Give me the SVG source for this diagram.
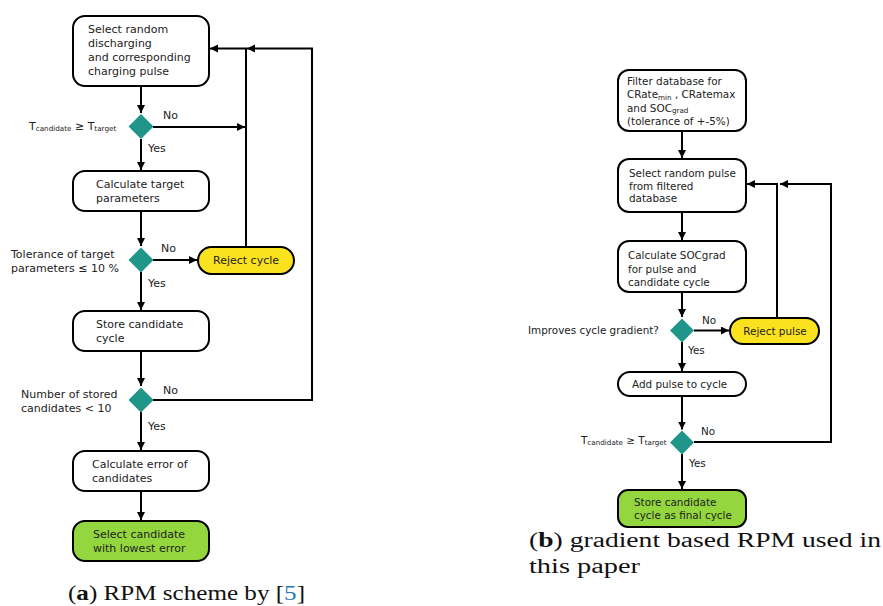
<svg xmlns="http://www.w3.org/2000/svg" width="883" height="606" viewBox="0 0 883 606">
<style>
.box{fill:#fff;stroke:#000;stroke-width:2}
.rej{fill:#FBE21F;stroke:#000;stroke-width:2}
.fin{fill:#93D63D;stroke:#000;stroke-width:2}
.dia{fill:#20968A}
.t{font-family:"DejaVu Sans",Verdana,sans-serif;font-size:11px;fill:#222}
.r{font-size:10.4px}
.sub{font-size:7.2px}
.c{text-anchor:middle}
.con path{fill:none;stroke:#000;stroke-width:2}
.cap{font-family:"Liberation Serif","Times New Roman",serif;font-size:20.5px;fill:#111}
</style>
<defs>
<marker id="ah" markerUnits="userSpaceOnUse" markerWidth="10" markerHeight="10" refX="8" refY="4" orient="auto">
<path d="M0,0 L8,4 L0,8 Z" fill="#000"/>
</marker>
</defs>
<rect width="883" height="606" fill="#fff"/>

<g class="con" id="connectors">
<path d="M141,86 V113" marker-end="url(#ah)"/>
<path d="M153,127 H245" marker-end="url(#ah)"/>
<path d="M141,139 V170" marker-end="url(#ah)"/>
<path d="M141,211 V246" marker-end="url(#ah)"/>
<path d="M153,260 H197" marker-end="url(#ah)"/>
<path d="M141,272 V310" marker-end="url(#ah)"/>
<path d="M246,247 V48.5 H210" marker-end="url(#ah)"/>
<path d="M141,351 V386" marker-end="url(#ah)"/>
<path d="M153,400 H312 V48.5 H247" marker-end="url(#ah)"/>
<path d="M141,412 V450" marker-end="url(#ah)"/>
<path d="M141,491 V520" marker-end="url(#ah)"/>

<path d="M682,131 V158" marker-end="url(#ah)"/>
<path d="M682,212 V240" marker-end="url(#ah)"/>
<path d="M682,292 V317" marker-end="url(#ah)"/>
<path d="M694,330.5 H729" marker-end="url(#ah)"/>
<path d="M682,342 V371" marker-end="url(#ah)"/>
<path d="M777,318 V184 H747" marker-end="url(#ah)"/>
<path d="M682,396 V429.5" marker-end="url(#ah)"/>
<path d="M694,442 H831 V184 H780" marker-end="url(#ah)"/>
<path d="M682,454 V489" marker-end="url(#ah)"/>
</g>

<g id="n1"><rect class="box" x="73" y="16" width="136" height="70" rx="12"/>
<text class="t" x="88" y="33">Select random</text>
<text class="t" x="88" y="47">discharging</text>
<text class="t" x="88" y="61">and corresponding</text>
<text class="t" x="88" y="75">charging pulse</text></g>

<g id="d1"><path class="dia" d="M141,114 L153.5,126.5 L141,139 L128.5,126.5 Z"/>
<text class="t" x="29" y="129.5">T<tspan class="sub" dy="1.5">candidate</tspan><tspan dy="-1.5"> ≥ T</tspan><tspan class="sub" dy="1.5">target</tspan></text>
<text class="t" x="163" y="119">No</text>
<text class="t" x="148" y="152">Yes</text></g>

<g id="n2"><rect class="box" x="73" y="171" width="136" height="40" rx="12"/>
<text class="t" x="96" y="188">Calculate target</text>
<text class="t" x="96" y="202">parameters</text></g>

<g id="d2"><path class="dia" d="M141,247.5 L153.5,260 L141,272.5 L128.5,260 Z"/>
<text class="t" x="11" y="258">Tolerance of target</text>
<text class="t" x="11" y="272">parameters ≤ 10 %</text>
<text class="t" x="161" y="252">No</text>
<text class="t" x="148" y="287">Yes</text></g>

<g id="reject-cycle"><rect class="rej" x="198" y="247" width="96" height="27" rx="13.5"/>
<text class="t c" x="246" y="264">Reject cycle</text></g>

<g id="n3"><rect class="box" x="73" y="311" width="136" height="40" rx="12"/>
<text class="t" x="96" y="328">Store candidate</text>
<text class="t" x="96" y="342">cycle</text></g>

<g id="d3"><path class="dia" d="M141,387.5 L153.5,400 L141,412.5 L128.5,400 Z"/>
<text class="t" x="21" y="398">Number of stored</text>
<text class="t" x="21" y="412">candidates &lt; 10</text>
<text class="t" x="163" y="394">No</text>
<text class="t" x="148" y="430">Yes</text></g>

<g id="n4"><rect class="box" x="73" y="451" width="136" height="40" rx="12"/>
<text class="t" x="92" y="468">Calculate error of</text>
<text class="t" x="92" y="482">candidates</text></g>

<g id="n5"><rect class="fin" x="73" y="521" width="136" height="40" rx="12"/>
<text class="t" x="93" y="538">Select candidate</text>
<text class="t" x="93" y="552">with lowest error</text></g>

<g id="cap-a"><text class="cap" x="68" y="600" textLength="237" lengthAdjust="spacingAndGlyphs">(<tspan font-weight="bold">a</tspan>) RPM scheme by [<tspan fill="#1f77b4">5</tspan>]</text></g>

<g id="r1"><rect class="box" x="618" y="70" width="128" height="61" rx="11"/>
<text class="t r" x="627" y="85">Filter database for</text>
<text class="t r" x="627" y="98">CRate<tspan class="sub" dy="1.5">min</tspan><tspan dy="-1.5"> , CRatemax</tspan></text>
<text class="t r" x="627" y="111.5">and SOC<tspan class="sub" dy="1.5">grad</tspan></text>
<text class="t r" x="627" y="125">(tolerance of +-5%)</text></g>

<g id="r2"><rect class="box" x="618" y="159" width="128" height="53" rx="11"/>
<text class="t r" x="629" y="176.5">Select random pulse</text>
<text class="t r" x="629" y="189.5">from filtered</text>
<text class="t r" x="629" y="202">database</text></g>

<g id="r3"><rect class="box" x="618" y="241" width="128" height="51" rx="11"/>
<text class="t r" x="628" y="259">Calculate SOCgrad</text>
<text class="t r" x="628" y="272.5">for pulse and</text>
<text class="t r" x="628" y="285.5">candidate cycle</text></g>

<g id="rd1"><path class="dia" d="M682,318.5 L694,330.5 L682,342.5 L670,330.5 Z"/>
<text class="t r" x="528" y="334">Improves cycle gradient?</text>
<text class="t r" x="702" y="324">No</text>
<text class="t r" x="688" y="354">Yes</text></g>

<g id="reject-pulse"><rect class="rej" x="730" y="318" width="89" height="26" rx="13"/>
<text class="t r c" x="775" y="334.5">Reject pulse</text></g>

<g id="r4"><rect class="box" x="618" y="372" width="128" height="24" rx="12"/>
<text class="t r" x="632" y="388">Add pulse to cycle</text></g>

<g id="rd2"><path class="dia" d="M682,430.5 L694,442.5 L682,454.5 L670,442.5 Z"/>
<text class="t r" x="581" y="443.5">T<tspan class="sub" dy="1.5">candidate</tspan><tspan dy="-1.5"> ≥ T</tspan><tspan class="sub" dy="1.5">target</tspan></text>
<text class="t r" x="701" y="435">No</text>
<text class="t r" x="689" y="467">Yes</text></g>

<g id="r5"><rect class="fin" x="618" y="490" width="128" height="37" rx="10"/>
<text class="t r" x="634" y="506">Store candidate</text>
<text class="t r" x="634" y="519">cycle as final cycle</text></g>

<g id="cap-b"><text class="cap" x="529" y="547" textLength="352" lengthAdjust="spacingAndGlyphs">(<tspan font-weight="bold">b</tspan>) gradient based RPM used in</text>
<text class="cap" x="529" y="573" textLength="111" lengthAdjust="spacingAndGlyphs">this paper</text></g>
</svg>
